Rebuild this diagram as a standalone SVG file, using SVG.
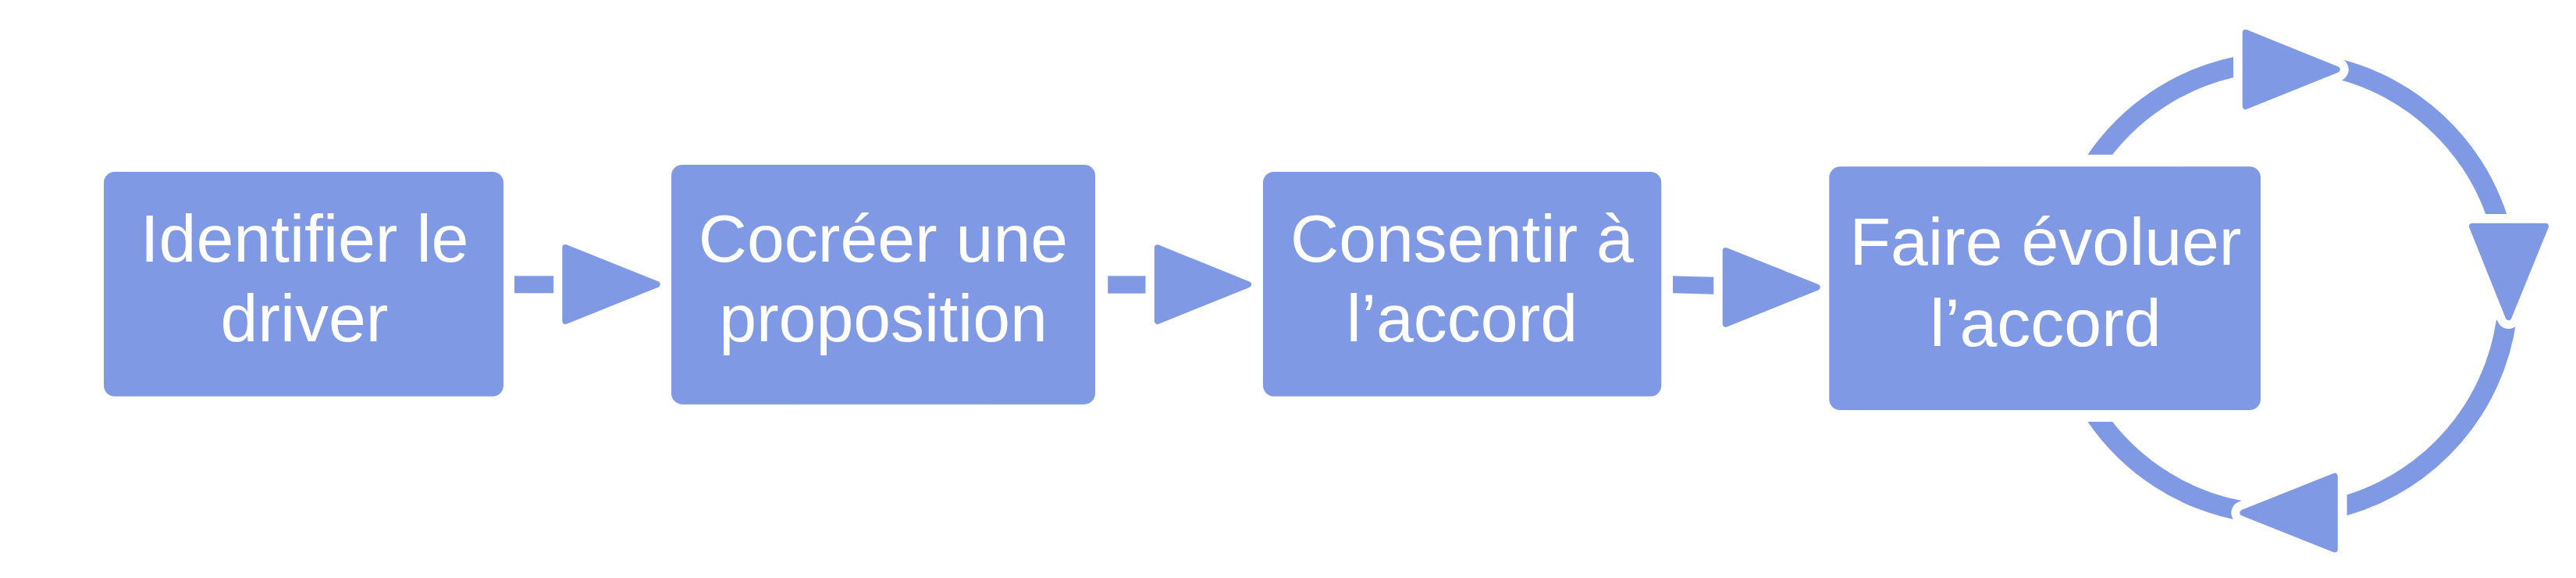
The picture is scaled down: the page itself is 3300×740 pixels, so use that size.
<svg xmlns="http://www.w3.org/2000/svg" xmlns:xlink="http://www.w3.org/1999/xlink" width="3300" height="740" viewBox="0 0 3300 740">
  <style>
    .box { fill: #7F99E4; }
    .lbl { fill: #FFFFFF; font-family: "Liberation Sans", Arial, Helvetica, sans-serif; font-size: 86px; text-anchor: middle; }
    .bar { fill: #7F99E4; }
    .arc { fill: #7F99E4; }
    .halo { fill: #FFFFFF; stroke: #FFFFFF; stroke-width: 30; stroke-linejoin: round; }
    .tri { fill: #7F99E4; stroke: #7F99E4; stroke-width: 8; stroke-linejoin: round; }
  </style>
  <defs>
    <path id="t1" d="M724.3,317 L841.7,364 L724.3,411 Z"/>
    <path id="t2" d="M1482.8,317.3 L1599,364.2 L1482.8,411 Z"/>
    <path id="t3" d="M2210.7,321 L2327.7,367.8 L2210.7,414.7 Z"/>
    <path id="tTop" d="M2876.7,41.7 L2993.7,89 L2876.7,136 Z"/>
    <path id="tRight" d="M3167,289.7 L3261,289.7 L3213.6,406 Z"/>
    <path id="tBottom" d="M2990.8,609.7 L2990.8,703.3 L2873.4,656.5 Z"/>
  </defs>
  <rect width="3300" height="740" fill="#FFFFFF"/>

  <g id="connectors">
    <rect class="bar" x="659" y="353.3" width="50.3" height="22"/>
    <use xlink:href="#t1" href="#t1" class="halo"/>
    <use xlink:href="#t1" href="#t1" class="tri"/>

    <rect class="bar" x="1419.2" y="353.3" width="48.4" height="22.4"/>
    <use xlink:href="#t2" href="#t2" class="halo"/>
    <use xlink:href="#t2" href="#t2" class="tri"/>

    <polygon class="bar" points="2143,353.3 2195.3,354.7 2195.3,376.7 2143,375.3"/>
    <use xlink:href="#t3" href="#t3" class="halo"/>
    <use xlink:href="#t3" href="#t3" class="tri"/>

    <path class="arc" d="M2674.5,198 A302.5,302.5 0 0 1 2861,73.1 L2861,99.3 A277,277 0 0 0 2706.1,198 Z"/>
    <path class="arc" d="M2997.7,75.6 A302.5,302.5 0 0 1 3211.2,274 L3184.2,274 A277,277 0 0 0 2997.7,102 Z"/>
    <path class="arc" d="M3223.7,410 A302.5,302.5 0 0 1 3006.6,660 L3006.6,633.4 A277,277 0 0 0 3197.9,410 Z"/>
    <path class="arc" d="M2873,667.2 A302.5,302.5 0 0 1 2674.5,540 L2706.1,540 A277,277 0 0 0 2873,641.3 Z"/>

    <use xlink:href="#tTop" href="#tTop" class="halo"/>
    <use xlink:href="#tTop" href="#tTop" class="tri"/>
    <use xlink:href="#tRight" href="#tRight" class="halo"/>
    <use xlink:href="#tRight" href="#tRight" class="tri"/>
    <use xlink:href="#tBottom" href="#tBottom" class="halo"/>
    <use xlink:href="#tBottom" href="#tBottom" class="tri"/>
  </g>

  <g id="node1">
    <rect class="box" x="133" y="220" width="512" height="287.5" rx="14" ry="14"/>
    <text class="lbl" x="390" y="335">Identifier le</text>
    <text class="lbl" x="390" y="436.7">driver</text>
  </g>

  <g id="node2">
    <rect class="box" x="860" y="211" width="543" height="306.7" rx="14" ry="14"/>
    <text class="lbl" x="1131.5" y="335">Cocréer une</text>
    <text class="lbl" x="1131.5" y="436.7">proposition</text>
  </g>

  <g id="node3">
    <rect class="box" x="1618" y="220" width="510.3" height="287.5" rx="14" ry="14"/>
    <text class="lbl" x="1873" y="335">Consentir à</text>
    <text class="lbl" x="1873" y="436.7">l’accord</text>
  </g>

  <g id="node4">
    <rect class="box" x="2343.3" y="213.3" width="552.7" height="311.7" rx="14" ry="14"/>
    <text class="lbl" x="2620.5" y="339.3">Faire évoluer</text>
    <text class="lbl" x="2620.5" y="442.7">l’accord</text>
  </g>
</svg>
